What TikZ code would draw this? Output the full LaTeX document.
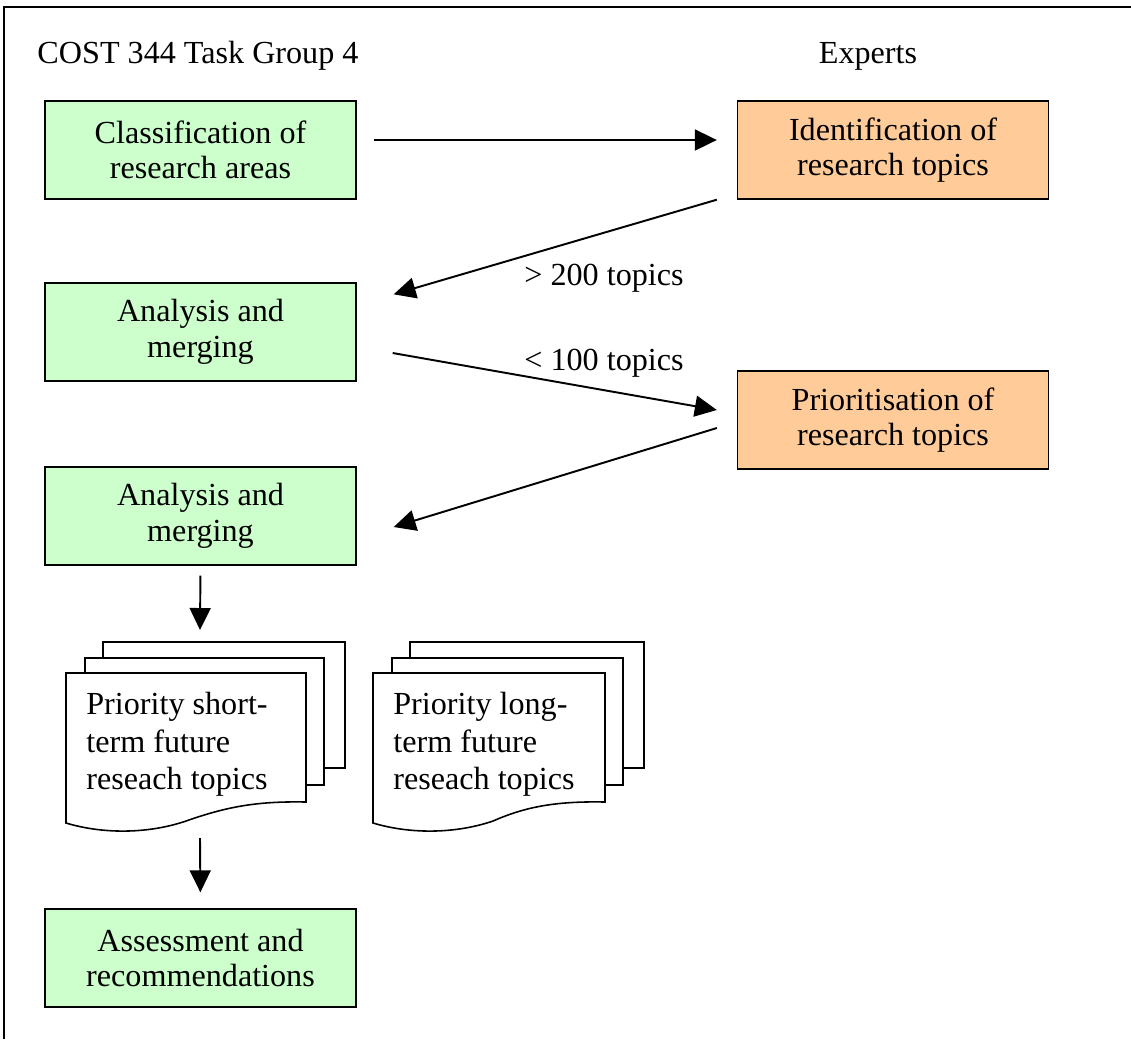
\documentclass[tikz,border=0pt]{standalone}
\usepackage{fontspec}
\setmainfont{Liberation Serif}
\usetikzlibrary{arrows.meta,calc}

\definecolor{boxgreen}{HTML}{CCFFCC}
\definecolor{boxorange}{HTML}{FFCC99}

% stack of three pages: name, left x, width, text
\newcommand{\pagestack}[4]{%
  \begin{scope}[shift={(#2,673)}]
    \draw[page] (37,-31) rectangle (#3+39,95);
    \draw[page] (19,-15) rectangle (#3+18,112);
    \draw[page] (0,0) -- (#3,0) -- (#3,129)
      .. controls (#3-50,128) and (#3-80,134) .. (120,148)
      .. controls (85,160) and (40,162) .. (0,150) -- cycle;
    \node[doc text] (#1) at (20,19) {#4};
    \coordinate (#1 top) at (134,-43);
    \coordinate (#1 bottom) at (134,165);
  \end{scope}}

\begin{document}
\begin{tikzpicture}[x=0.02cm, y=-0.02cm, font=\fontsize{18.3}{20.2}\selectfont,
    >={Triangle[length=0.44cm, width=0.42cm]},
    arrow/.style={->, line width=1.1pt},
    page/.style={draw, fill=white, line width=0.9pt},
    green box/.style={rectangle, draw, line width=0.8pt, fill=boxgreen, minimum width=6.22cm, minimum height=1.96cm, align=center, inner sep=0pt},
    orange box/.style={green box, fill=boxorange},
    doc text/.style={anchor=north west, align=left, inner sep=0pt, font=\fontsize{18.3}{21.3}\selectfont}]

    \useasboundingbox (0,0) rectangle (1131,1039);
    \draw[line width=1pt] (4,1039) -- (4,7) -- (1131,7);

    \node (group) at (198,56) {COST 344 Task Group 4};
    \node (experts) at (868,56) {Experts};

    \node[green box] (classify) at (200.5,150) {Classification of\\research areas};
    \node[orange box] (identify) at (893,150) {Identification of\\research topics};
    \node[green box] (merge1) at (200.5,332) {Analysis and\\merging};
    \node[orange box] (prioritise) at (893,420) {Prioritisation of\\research topics};
    \node[green box] (merge2) at (200.5,516) {Analysis and\\merging};
    \node[green box] (assess) at (200.5,958) {Assessment and\\recommendations};

    \pagestack{short}{66}{240}{Priority short-\\term future\\reseach topics}
    \pagestack{long}{373}{232}{Priority long-\\term future\\reseach topics}

    \node (many) at (604,278) {> 200 topics};
    \node (fewer) at (604,363) {< 100 topics};

    \draw[arrow] ($(classify.east)+(17,-10)$) -- ($(identify.west)+(-20,-10)$);
    \draw[arrow] ($(identify.south west)+(-20,0)$) -- ($(merge1.north east)+(37,12)$);
    \draw[arrow] ($(merge1.east)+(36,21)$) -- ($(prioritise.west)+(-20,-10)$);
    \draw[arrow] ($(prioritise.west)+(-20,8)$) -- ($(merge2.east)+(37,11)$);
    \draw[arrow, shorten <=0.2cm] (merge2.south) -- (short top);
    \draw[arrow, shorten >=0.32cm] (short bottom) -- (assess.north);

\end{tikzpicture}
\end{document}
